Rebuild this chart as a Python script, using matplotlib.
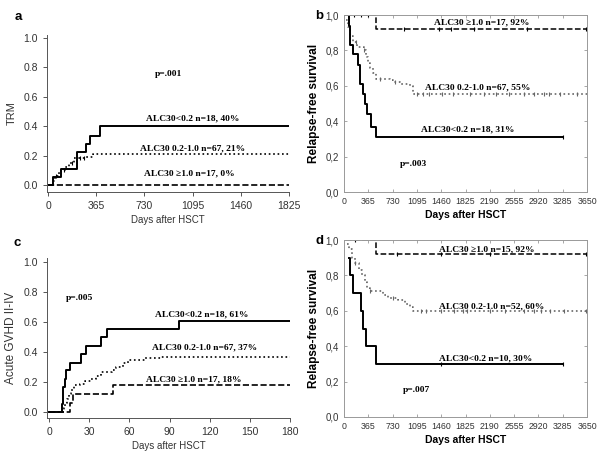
import numpy as np
import matplotlib
matplotlib.use("Agg")
import matplotlib.pyplot as plt

# ---- panel a: TRM (cumulative incidence) ----
a_low_t = [0, 38, 96, 220, 290, 320, 391, 1825]
a_low_y = [0, 0.056, 0.111, 0.222, 0.278, 0.333, 0.40, 0.40]
a_mid_t = [0, 40, 55, 80, 100, 130, 160, 200, 290, 340, 1825]
a_mid_y = [0, 0.03, 0.06, 0.09, 0.10, 0.12, 0.15, 0.18, 0.19, 0.21, 0.21]
a_mid_cens = [60, 120, 180, 240, 270]
a_high_t = [0, 1825]
a_high_y = [0, 0]

# ---- panel b: relapse-free survival, all patients ----
b_low_t = [35, 75, 85, 135, 210, 235, 285, 320, 350, 400, 476, 3285]
b_low_y = [1.0, 0.94, 0.83, 0.78, 0.72, 0.61, 0.555, 0.50, 0.44, 0.37, 0.31, 0.31]
b_low_cens = [3285]
b_mid_t = [35, 60, 90, 135, 200, 300, 335, 360, 390, 430, 485, 690, 735, 835, 985, 1035, 3650]
b_mid_y = [0.97, 0.93, 0.88, 0.85, 0.82, 0.80, 0.76, 0.73, 0.70, 0.67, 0.64, 0.63, 0.62, 0.61, 0.60, 0.555, 0.555]
b_mid_cens = [180, 300, 540, 760, 1100, 1180, 1280, 1470, 1640, 1890, 2100, 2290, 2480, 2700, 2850, 3000, 3080, 3250, 3500]
b_high_t = [35, 476, 3650]
b_high_y = [1.0, 0.92, 0.92]
b_high_cens = [150, 250, 360, 900, 1430, 1600, 1950, 2750, 3640]

# ---- panel c: acute GVHD II-IV ----
c_low_t = [0, 9.7, 10.5, 11.7, 13, 16, 24, 28, 39, 43, 97, 180]
c_low_y = [0, 0.056, 0.17, 0.22, 0.28, 0.33, 0.39, 0.44, 0.50, 0.555, 0.61, 0.61]
c_mid_t = [0, 11, 12, 13.5, 15, 16.5, 19, 23, 27, 31, 35, 39, 47, 50, 55, 59, 63, 72, 84, 180]
c_mid_y = [0, 0.03, 0.06, 0.09, 0.12, 0.15, 0.18, 0.19, 0.21, 0.22, 0.24, 0.27, 0.28, 0.30, 0.33, 0.345, 0.35, 0.36, 0.37, 0.37]
c_high_t = [0, 15.5, 18, 48, 180]
c_high_y = [0, 0.06, 0.12, 0.18, 0.18]

# ---- panel d: relapse-free survival, subgroup ----
d_low_t = [75, 85, 135, 260, 285, 325, 476, 3285]
d_low_y = [0.9, 0.8, 0.70, 0.60, 0.50, 0.40, 0.30, 0.30]
d_low_cens = [1460, 3285]
d_mid_t = [45, 75, 125, 160, 225, 270, 310, 340, 385, 585, 660, 810, 910, 985, 1035, 3650]
d_mid_y = [0.98, 0.95, 0.90, 0.87, 0.83, 0.80, 0.76, 0.73, 0.71, 0.69, 0.67, 0.66, 0.64, 0.62, 0.60, 0.60]
d_mid_cens = [170, 390, 730, 1150, 1230, 1460, 1650, 1780, 1850, 2190, 2420, 2700, 2850, 2960, 3100, 3300, 3640]
d_high_t = [35, 476, 3650]
d_high_y = [1.0, 0.92, 0.92]
d_high_cens = [160, 790, 1460, 2190, 3640]

serif = "Liberation Serif"
sans = "Liberation Sans"
fig = plt.figure(figsize=(6, 4.55), dpi=100)


def step_y(t, y, x):
    i = np.searchsorted(t, x, side="right") - 1
    return np.array(y)[np.clip(i, 0, len(y) - 1)]


def curve(ax, t, y, ls, color, lw, cens=None):
    ax.step(t, y, where="post", ls=ls, color=color, lw=lw)
    if cens:
        ax.plot(cens, step_y(t, y, cens), ls="none", marker="|", ms=3,
                mew=0.8, color=color)


def label(ax, x, y, s, size=6.8):
    ax.text(x, y, s, ha="center", va="center", fontsize=size,
            fontweight="bold", family=serif)


def style_open(ax):
    for s in ["top", "right"]:
        ax.spines[s].set_visible(False)
    for s in ["left", "bottom"]:
        ax.spines[s].set_color("#555555")
        ax.spines[s].set_linewidth(0.7)
    ax.tick_params(colors="#555555", labelcolor="#333333", labelsize=7.5,
                   length=3, width=0.7)
    for lab in ax.get_xticklabels() + ax.get_yticklabels():
        lab.set_family(sans)


def style_box(ax):
    for s in ax.spines.values():
        s.set_color("#999999")
        s.set_linewidth(0.7)
    ax.tick_params(direction="in", top=True, right=True, colors="#999999",
                   labelcolor="#333333", labelsize=6.3, length=2.5, width=0.6)
    ax.set_yticks(np.arange(0, 1.01, 0.2))
    ax.set_yticklabels(["0,0", "0,2", "0,4", "0,6", "0,8", "1,0"])
    ax.set_xticks(np.arange(0, 3651, 365))
    for lab in ax.get_xticklabels() + ax.get_yticklabels():
        lab.set_family(sans)
    ax.tick_params(axis="y", labelsize=7)
    ax.set_xlim(0, 3650)
    ax.set_ylim(0, 1)
    ax.set_xlabel("Days after HSCT", fontsize=7.5, fontweight="bold",
                  family=sans, labelpad=3)
    ax.set_ylabel("Relapse-free survival", fontsize=8.5, fontweight="bold",
                  family=sans, labelpad=4)


# panel a
ax = fig.add_axes([47 / 600, 1 - 192 / 455, 242 / 600, 157 / 455])
curve(ax, a_low_t, a_low_y, "-", "black", 1.4)
curve(ax, a_mid_t, a_mid_y, ":", "black", 1.2, a_mid_cens)
curve(ax, a_high_t, a_high_y, "--", "black", 1.2)
ax.set_xlim(-8, 1825)
ax.set_ylim(-0.048, 1.02)
ax.set_xticks([0, 365, 730, 1095, 1460, 1825])
ax.set_yticks(np.arange(0, 1.01, 0.2))
ax.set_yticklabels(["0.0", "0.2", "0.4", "0.6", "0.8", "1.0"])
style_open(ax)
ax.set_xlabel("Days after HSCT", fontsize=7, family=sans, color="#333333", labelpad=3)
ax.set_ylabel("TRM", fontsize=8, family=sans, color="#333333", labelpad=5)
label(ax, 910, 0.755, "p=.001")
label(ax, 1098, 0.455, "ALC30<0.2 n=18, 40%")
label(ax, 1098, 0.245, "ALC30 0.2-1.0 n=67, 21%")
label(ax, 1067, 0.075, "ALC30 \u22651.0 n=17, 0%")
fig.text(18 / 600, 1 - 17 / 455, "a", fontsize=9.5, fontweight="bold",
         family=sans, ha="center", va="center")

# panel b
ax = fig.add_axes([344 / 600, 1 - 192 / 455, 243 / 600, 177 / 455])
curve(ax, b_high_t, b_high_y, "--", "black", 1.1, b_high_cens)
curve(ax, b_mid_t, b_mid_y, ":", "#666666", 1.2, b_mid_cens)
curve(ax, b_low_t, b_low_y, "-", "black", 1.4, b_low_cens)
style_box(ax)
label(ax, 2073, 0.96, "ALC30 \u22651.0 n=17, 92%")
label(ax, 2013, 0.593, "ALC30 0.2-1.0 n=67, 55%")
label(ax, 1863, 0.356, "ALC30<0.2 n=18, 31%")
label(ax, 1036, 0.158, "p=.003")
fig.text(319 / 600, 1 - 16 / 455, "b", fontsize=9.5, fontweight="bold",
         family=sans, ha="center", va="center")

# panel c
ax = fig.add_axes([47 / 600, 1 - 418 / 455, 243 / 600, 160 / 455])
curve(ax, c_low_t, c_low_y, "-", "black", 1.4)
curve(ax, c_mid_t, c_mid_y, ":", "black", 1.2)
curve(ax, c_high_t, c_high_y, "--", "black", 1.2)
ax.set_xlim(-1.5, 180)
ax.set_ylim(-0.04, 1.03)
ax.set_xticks(np.arange(0, 181, 30))
ax.set_yticks(np.arange(0, 1.01, 0.2))
ax.set_yticklabels(["0.0", "0.2", "0.4", "0.6", "0.8", "1.0"])
style_open(ax)
ax.set_xlabel("Days after HSCT", fontsize=7, family=sans, color="#333333", labelpad=3)
ax.set_ylabel("Acute GVHD II-IV", fontsize=8.5, family=sans, color="#333333", labelpad=5)
label(ax, 23, 0.765, "p=.005")
label(ax, 114, 0.65, "ALC30<0.2 n=18, 61%")
label(ax, 116, 0.43, "ALC30 0.2-1.0 n=67, 37%")
label(ax, 108, 0.22, "ALC30 \u22651.0 n=17, 18%")
fig.text(17 / 600, 1 - 243 / 455, "c", fontsize=9.5, fontweight="bold",
         family=sans, ha="center", va="center")

# panel d
ax = fig.add_axes([344 / 600, 1 - 417 / 455, 243 / 600, 177 / 455])
curve(ax, d_high_t, d_high_y, "--", "black", 1.1, d_high_cens)
curve(ax, d_mid_t, d_mid_y, ":", "#666666", 1.2, d_mid_cens)
curve(ax, d_low_t, d_low_y, "-", "black", 1.4, d_low_cens)
style_box(ax)
label(ax, 2148, 0.949, "ALC30 \u22651.0 n=15, 92%")
label(ax, 2223, 0.627, "ALC30 0.2-1.0 n=52, 60%")
label(ax, 2133, 0.333, "ALC30<0.2 n=10, 30%")
label(ax, 1096, 0.153, "p=.007")
fig.text(319 / 600, 1 - 241 / 455, "d", fontsize=9.5, fontweight="bold",
         family=sans, ha="center", va="center")

fig.savefig("out.png", dpi=100)
